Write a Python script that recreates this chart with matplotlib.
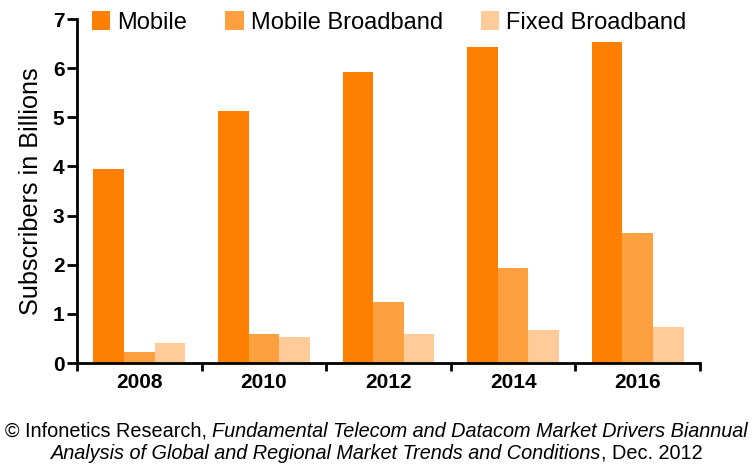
import numpy as np
import matplotlib
matplotlib.use("Agg")
from matplotlib import pyplot as plt

plt.rcParams['font.family'] = ['Liberation Sans', 'DejaVu Sans']

years = ['2008', '2010', '2012', '2014', '2016']
mobile = [3.95, 5.13, 5.93, 6.43, 6.53]
mobile_bb = [0.23, 0.60, 1.24, 1.94, 2.64]
fixed_bb = [0.41, 0.52, 0.60, 0.67, 0.73]
series_names = ['Mobile', 'Mobile Broadband', 'Fixed Broadband']
colors = ['#ff8000', '#ffa040', '#ffcc99']

fig = plt.figure(figsize=(7.53, 4.65), dpi=100)
ax = fig.add_axes([77/753, 1-363/465, (700-77)/753, (363-19)/465])

x = np.arange(len(years))
w = 0.246
for i, (vals, name) in enumerate(zip([mobile, mobile_bb, fixed_bb], series_names)):
    ax.bar(x + (i-1)*w, vals, w, color=colors[i], label=name, linewidth=0)

ax.set_xlim(-0.5, len(years)-0.5)
ax.set_ylim(0, 7)
for s in ['top', 'right']:
    ax.spines[s].set_visible(False)
for s in ['left', 'bottom']:
    ax.spines[s].set_linewidth(2)

ax.set_yticks(range(8))
ax.set_xticks(x)
ax.set_xticklabels(years)
ax.set_xticks(np.arange(-0.5, len(years)), minor=True)
ax.tick_params(axis='x', which='major', length=0, pad=7, labelsize=15)
ax.tick_params(axis='x', which='minor', length=6, width=2, direction='out')
ax.tick_params(axis='y', length=7, width=2, pad=2, labelsize=15)
for lab in ax.get_xticklabels() + ax.get_yticklabels():
    lab.set_fontweight('bold')

ax.set_ylabel('Subscribers in Billions', fontsize=18.2, labelpad=7)

ax.legend(loc='upper left', bbox_to_anchor=(92/753, 1-11/465), bbox_transform=fig.transFigure,
          ncol=3, frameon=False, fontsize=17, handlelength=0.78, handleheight=0.85,
          handletextpad=0.3, columnspacing=1.6, borderpad=0, borderaxespad=0)

# source line with mixed upright / italic parts
r = fig.canvas.get_renderer()
cap_size = 14.3
lines = [
    [('© Infonetics Research, ', 'normal'),
     ('Fundamental Telecom and Datacom Market Drivers Biannual', 'italic')],
    [('Analysis of Global and Regional Market Trends and Conditions', 'italic'),
     (', Dec. 2012', 'normal')],
]
ys = [1-431/465, 1-453/465]
for parts, yy in zip(lines, ys):
    texts = [fig.text(0, yy, s, style=st, fontsize=cap_size, va='center', ha='left')
             for s, st in parts]
    widths = [t.get_window_extent(r).width for t in texts]
    x0 = (fig.bbox.width - sum(widths)) / 2
    for t, wd in zip(texts, widths):
        t.set_x(x0 / fig.bbox.width)
        x0 += wd

fig.savefig('out.png', dpi=100)
